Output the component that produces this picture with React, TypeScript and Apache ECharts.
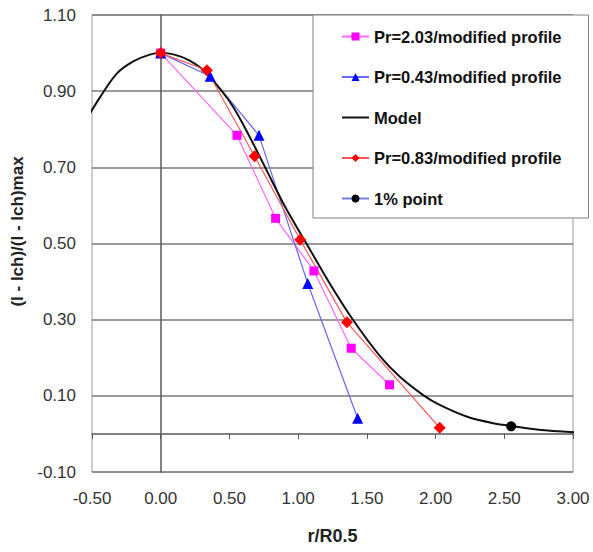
import React, { useEffect, useRef } from "react";
import * as echarts from "echarts";

// ---- data ----
const pr203X = [0, 0.555, 0.836, 1.115, 1.386, 1.665];
const pr203Y = [1.0, 0.784, 0.566, 0.428, 0.225, 0.129];

const pr043X = [0, 0.36, 0.715, 1.07, 1.433];
const pr043Y = [1.0, 0.939, 0.784, 0.395, 0.041];

const pr083X = [0, 0.336, 0.683, 1.015, 1.355, 2.03];
const pr083Y = [1.0, 0.955, 0.729, 0.51, 0.293, 0.016];

const modelX = [
  -0.53, -0.44, -0.32, -0.2, -0.08, 0, 0.1, 0.2, 0.3, 0.445, 0.53, 0.63, 0.76,
  0.9, 1.06, 1.23, 1.4, 1.6, 1.74, 1.91, 2.03, 2.23, 2.42, 2.55, 2.75, 3.03,
];
const modelY = [
  0.832, 0.885, 0.946, 0.978, 0.996, 1.0, 0.996, 0.982, 0.958, 0.9, 0.857,
  0.792, 0.7, 0.6, 0.5, 0.395, 0.299, 0.202, 0.15, 0.102, 0.076, 0.045, 0.028,
  0.021, 0.011, 0.004,
];

const onePctX = [2.55];
const onePctY = [0.02];

const seriesNames = [
  "Pr=2.03/modified profile",
  "Pr=0.43/modified profile",
  "Model",
  "Pr=0.83/modified profile",
  "1% point",
];

const xMin = -0.5;
const xMax = 3.0;
const xStep = 0.5;
const yMin = -0.1;
const yMax = 1.1;
const yStep = 0.1;

const xTitle = "r/R0.5";
const yTitle = "(I - Ich)/(I - Ich)max";

const pairs = (xs: number[], ys: number[]) => xs.map((x, i) => [x, ys[i]]);

const FONT = "'Liberation Sans', Arial, sans-serif";

export default function App() {
  const ref = useRef<HTMLDivElement>(null);

  useEffect(() => {
    if (!ref.current) return;
    const chart = echarts.init(ref.current, undefined, { renderer: "svg" });
    const option: any = {
      animation: false,
      backgroundColor: "#ffffff",
      textStyle: { fontFamily: FONT },
      grid: {
        left: 92,
        top: 15,
        right: 20,
        bottom: 80,
        show: true,
        borderColor: "#9a9a9a",
        borderWidth: 1,
        backgroundColor: "transparent",
      },
      legend: {
        orient: "vertical",
        left: 313,
        top: 15,
        data: seriesNames,
        backgroundColor: "#ffffff",
        borderColor: "#808080",
        borderWidth: 1,
        padding: [13, 27, 11, 28],
        itemWidth: 27,
        itemHeight: 10,
        itemGap: 23.5,
        textStyle: {
          fontFamily: FONT,
          fontWeight: "bold",
          fontSize: 16.5,
          color: "#111",
        },
      },
      xAxis: [
        {
          type: "value",
          min: xMin,
          max: xMax,
          interval: xStep,
          position: "bottom",
          axisLine: { show: false, onZero: false },
          axisTick: { show: false },
          splitLine: { show: false },
          axisLabel: {
            margin: 18,
            fontSize: 17,
            color: "#333",
            fontFamily: FONT,
            formatter: (v: number) => v.toFixed(2),
          },
          name: xTitle,
          nameLocation: "middle",
          nameGap: 55,
          nameTextStyle: {
            fontFamily: FONT,
            fontWeight: "bold",
            fontSize: 18,
            color: "#222",
          },
        },
        {
          type: "value",
          min: xMin,
          max: xMax,
          interval: xStep,
          position: "bottom",
          axisLine: {
            show: true,
            onZero: true,
            onZeroAxisIndex: 0,
            lineStyle: { color: "#5a5a5a", width: 1.5 },
          },
          axisTick: {
            show: true,
            inside: false,
            length: 5,
            lineStyle: { color: "#5a5a5a", width: 1 },
          },
          axisLabel: { show: false },
          splitLine: { show: false },
        },
      ],
      yAxis: [
        {
          type: "value",
          min: yMin,
          max: yMax,
          interval: yStep,
          position: "left",
          axisLine: { show: false, onZero: false },
          axisTick: { show: false },
          splitLine: {
            show: true,
            lineStyle: { color: ["#7a7a7a", "transparent"], width: 1.5 },
          },
          axisLabel: {
            margin: 16,
            fontSize: 17,
            color: "#333",
            fontFamily: FONT,
            formatter: (v: number) =>
              Math.abs(Math.round(v * 10)) % 2 === 1 ? v.toFixed(2) : "",
          },
          name: yTitle,
          nameLocation: "middle",
          nameGap: 64,
          nameRotate: 90,
          nameTextStyle: {
            fontFamily: FONT,
            fontWeight: "bold",
            fontSize: 17,
            color: "#222",
            padding: [0, 0, 0, 24],
          },
        },
        {
          type: "value",
          min: yMin,
          max: yMax,
          interval: yStep,
          position: "right",
          axisLine: {
            show: true,
            onZero: true,
            onZeroAxisIndex: 0,
            lineStyle: { color: "#5a5a5a", width: 1.5 },
          },
          axisTick: { show: false },
          axisLabel: { show: false },
          splitLine: { show: false },
        },
      ],
      series: [
        {
          name: seriesNames[0],
          type: "line",
          xAxisIndex: 0,
          yAxisIndex: 0,
          data: pairs(pr203X, pr203Y),
          symbol: "rect",
          symbolSize: 9,
          itemStyle: { color: "#ff00ff" },
          lineStyle: { color: "#ff66ff", width: 1.2 },
        },
        {
          name: seriesNames[1],
          type: "line",
          xAxisIndex: 0,
          yAxisIndex: 0,
          data: pairs(pr043X, pr043Y),
          symbol: "triangle",
          symbolSize: 11,
          itemStyle: { color: "#0000ff" },
          lineStyle: { color: "#6666ff", width: 1.2 },
        },
        {
          name: seriesNames[2],
          type: "line",
          xAxisIndex: 0,
          yAxisIndex: 0,
          data: pairs(modelX, modelY),
          symbol: "none",
          smooth: 0.3,
          clip: false,
          itemStyle: { color: "rgba(0,0,0,0)" },
          lineStyle: { color: "#111111", width: 2 },
        },
        {
          name: seriesNames[3],
          type: "line",
          xAxisIndex: 0,
          yAxisIndex: 0,
          data: pairs(pr083X, pr083Y),
          symbol: "diamond",
          symbolSize: 12,
          itemStyle: { color: "#ff0000" },
          lineStyle: { color: "#ff5555", width: 1.2 },
        },
        {
          name: seriesNames[4],
          type: "line",
          xAxisIndex: 0,
          yAxisIndex: 0,
          data: pairs(onePctX, onePctY),
          symbol: "circle",
          symbolSize: 10,
          itemStyle: { color: "#000000" },
          lineStyle: { color: "#7777ff", width: 1.2 },
        },
      ],
    };
    chart.setOption(option);
    return () => chart.dispose();
  }, []);

  return (
    <div
      ref={ref}
      style={{
        position: "fixed",
        left: 0,
        top: 0,
        width: 593,
        height: 552,
        background: "#fff",
      }}
    />
  );
}
